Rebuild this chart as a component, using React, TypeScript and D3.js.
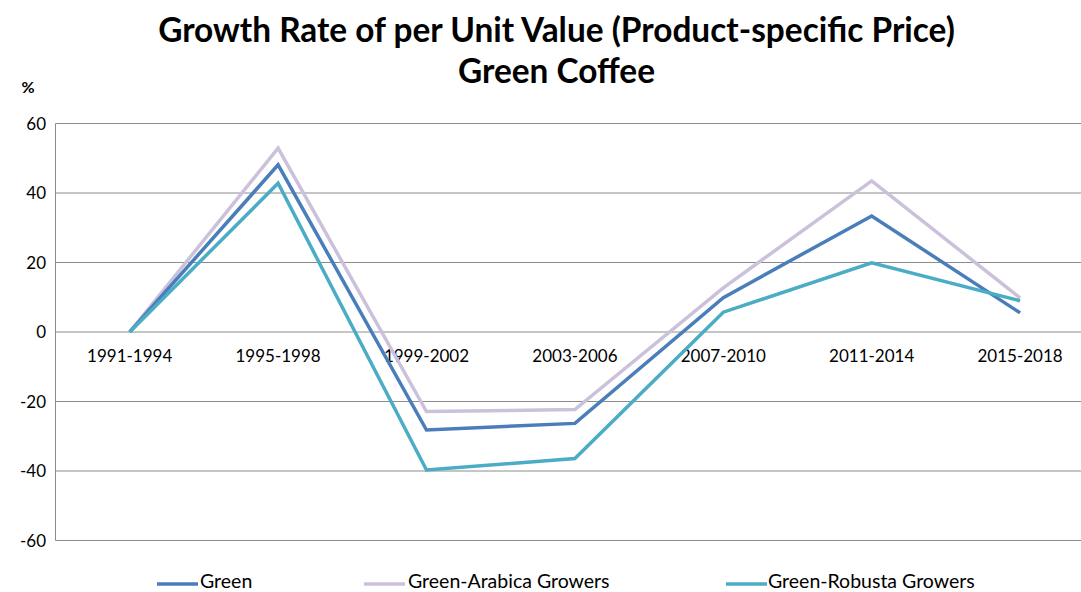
import React from "react";
import * as d3 from "d3";

const categories = ["1991-1994", "1995-1998", "1999-2002", "2003-2006", "2007-2010", "2011-2014", "2015-2018"];
const green = [0, 48.1, -28.2, -26.3, 9.9, 33.4, 5.5];
const arabica = [0, 52.9, -22.9, -22.3, 12.7, 43.5, 9.8];
const robusta = [0, 42.8, -39.7, -36.4, 5.7, 19.9, 9.0];
const yTicks = [-60, -40, -20, 0, 20, 40, 60];

const seriesList = [
  { name: "Green", values: green, color: "#4A7EBB" },
  { name: "Green-Arabica Growers", values: arabica, color: "#CCC1DA" },
  { name: "Green-Robusta Growers", values: robusta, color: "#4BACC6" },
];
// draw order: arabica, green, robusta (robusta on top)
const drawOrder = [1, 0, 2];

const W = 1081;
const H = 592;
const FONT = "Lato, 'Open Sans', sans-serif";

export default function App() {
  const left = 55.5;
  const step = 148.4;
  const x = d3.scaleBand<string>().domain(categories).range([left, left + step * categories.length]);
  const y = d3.scaleLinear().domain([-60, 60]).range([540.5, 123.5]);
  const line = d3
    .line<number>()
    .x((_, i) => (x(categories[i]) as number) + x.bandwidth() / 2)
    .y((d) => y(d));

  const legendItems = [
    { lx: 157, tx: 200 },
    { lx: 364, tx: 408 },
    { lx: 726, tx: 768 },
  ];

  return (
    <svg width={W} height={H} style={{ position: "absolute", left: 0, top: 0, background: "#fff" }}>
      <rect width={W} height={H} fill="#fff" />
      <text x={556.5} y={42} textAnchor="middle" fontFamily={FONT} fontWeight="bold" fontSize={33.4} fill="#000">
        Growth Rate of per Unit Value (Product-specific Price)
      </text>
      <text x={556.5} y={83} textAnchor="middle" fontFamily={FONT} fontWeight="bold" fontSize={33.4} fill="#000">
        Green Coffee
      </text>
      <text x={28} y={93} textAnchor="middle" fontFamily={FONT} fontWeight="bold" fontSize={16} fill="#000">
        %
      </text>
      {yTicks.map((t) => (
        <g key={t}>
          <line x1={left} x2={W} y1={y(t)} y2={y(t)} stroke="#8c8c8c" strokeWidth={1} />
          <text x={46} y={y(t) + 6} textAnchor="end" fontFamily={FONT} fontSize={17} fill="#000">
            {t}
          </text>
        </g>
      ))}
      <line x1={left} x2={left} y1={y(60)} y2={y(-60)} stroke="#8c8c8c" strokeWidth={1} />
      {categories.map((c) => (
        <text
          key={c}
          x={(x(c) as number) + x.bandwidth() / 2}
          y={y(0) + 30}
          textAnchor="middle"
          fontFamily={FONT}
          fontSize={17}
          fill="#000"
        >
          {c}
        </text>
      ))}
      {drawOrder.map((i) => (
        <path
          key={seriesList[i].name}
          d={line(seriesList[i].values) || ""}
          fill="none"
          stroke={seriesList[i].color}
          strokeWidth={3.5}
          strokeLinejoin="miter"
        />
      ))}
      {seriesList.map((s, i) => (
        <g key={s.name}>
          <line x1={legendItems[i].lx} x2={legendItems[i].lx + 41} y1={584} y2={584} stroke={s.color} strokeWidth={3.5} />
          <text x={legendItems[i].tx} y={588} fontFamily={FONT} fontSize={19.5} fill="#000">
            {s.name}
          </text>
        </g>
      ))}
    </svg>
  );
}
